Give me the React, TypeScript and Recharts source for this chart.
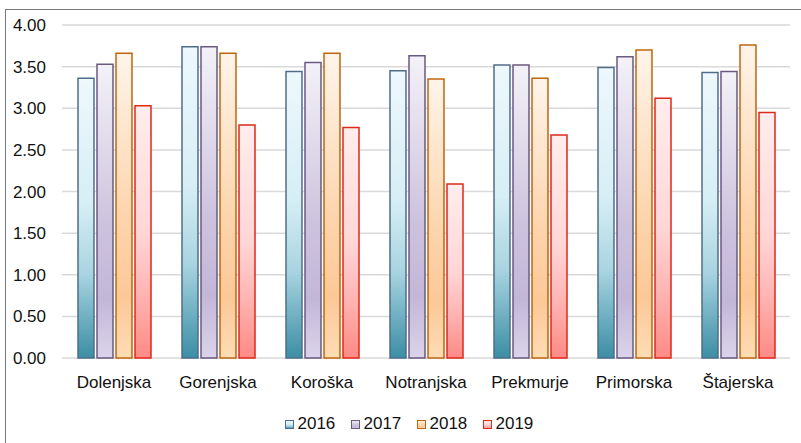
import React from "react";
import { BarChart, Bar, XAxis, YAxis, CartesianGrid, Legend } from "recharts";

const categories = ["Dolenjska", "Gorenjska", "Koroška", "Notranjska", "Prekmurje", "Primorska", "Štajerska"];
const s2016 = [3.36, 3.74, 3.44, 3.45, 3.52, 3.49, 3.43];
const s2017 = [3.53, 3.74, 3.55, 3.63, 3.52, 3.62, 3.44];
const s2018 = [3.66, 3.66, 3.66, 3.35, 3.36, 3.70, 3.76];
const s2019 = [3.03, 2.80, 2.77, 2.09, 2.68, 3.12, 2.95];
const yTicks = [0, 0.5, 1, 1.5, 2, 2.5, 3, 3.5, 4];
const seriesNames = ["2016", "2017", "2018", "2019"];

const data = categories.map((c, i) => ({
  name: c,
  "2016": s2016[i],
  "2017": s2017[i],
  "2018": s2018[i],
  "2019": s2019[i],
}));

const styles = [
  { key: "2016", stroke: "#4f6d8a", grad: "g2016", stops: [["0", "#eef8fd"], ["0.45", "#d6eef5"], ["0.7", "#a8d4e0"], ["1", "#3b8ea5"]] },
  { key: "2017", stroke: "#6b5a80", grad: "g2017", stops: [["0", "#f4f1f8"], ["0.55", "#cdc2de"], ["0.8", "#c3b7d8"], ["1", "#dbd3ea"]] },
  { key: "2018", stroke: "#c0650e", grad: "g2018", stops: [["0", "#fff4ea"], ["0.55", "#fdd4ab"], ["0.8", "#fcc898"], ["1", "#fedcb4"]] },
  { key: "2019", stroke: "#dd2a1a", grad: "g2019", stops: [["0", "#ffeded"], ["0.5", "#ffd6d6"], ["0.75", "#ffb4b2"], ["1", "#ff8a85"]] },
];

const font = "'Liberation Sans', Arial, sans-serif";

const renderLegend = () => (
  <div style={{ display: "flex", paddingLeft: 285, fontFamily: font, fontSize: 17, color: "#111", lineHeight: "20px", height: 20 }}>
    {seriesNames.map((n, i) => (
      <div key={n} style={{ display: "flex", alignItems: "center", width: 66 }}>
        <svg width={9} height={9} style={{ marginRight: 3.5 }}>
          <rect x={0.5} y={0.5} width={8} height={8} fill={`url(#${styles[i].grad})`} stroke={styles[i].stroke} strokeWidth={1} />
        </svg>
        <span>{n}</span>
      </div>
    ))}
  </div>
);

export default function App() {
  return (
    <div style={{ position: "absolute", left: 0, top: 0, width: 801, height: 443, background: "#fff", overflow: "hidden" }}>
      <div style={{ position: "absolute", left: 5, top: 9, width: 900, height: 600, borderLeft: "1px solid #7a7a7a", borderTop: "1px solid #7a7a7a" }} />
      <div style={{ position: "absolute", left: 0, top: 0 }}>
        <BarChart width={801} height={443} data={data} margin={{ top: 25, right: 11, bottom: 0, left: 0 }} barSize={16} barGap={3}>
          <defs>
            {styles.map((s) => (
              <linearGradient key={s.grad} id={s.grad} x1="0" y1="0" x2="0" y2="1">
                {s.stops.map(([o, c]) => (
                  <stop key={o} offset={o} stopColor={c} />
                ))}
              </linearGradient>
            ))}
          </defs>
          <CartesianGrid vertical={false} stroke="#d9d9d9" strokeWidth={1.5} />
          <XAxis dataKey="name" axisLine={false} tickLine={false} tickSize={0} tickMargin={18} height={65} interval={0}
            tick={{ fontFamily: font, fontSize: 17, fill: "#111" }} />
          <YAxis domain={[0, 4]} ticks={yTicks} axisLine={false} tickLine={false} tickSize={0} tickMargin={16} width={62}
            tickFormatter={(v: number) => v.toFixed(2)} tick={{ fontFamily: font, fontSize: 17, fill: "#111" }} />
          <Legend content={renderLegend} wrapperStyle={{ position: "absolute", top: 414, left: 0, width: 801, height: 20 }} />
          {styles.map((s) => (
            <Bar key={s.key} dataKey={s.key} fill={`url(#${s.grad})`} stroke={s.stroke} strokeWidth={1.5} isAnimationActive={false} />
          ))}
        </BarChart>
      </div>
    </div>
  );
}
